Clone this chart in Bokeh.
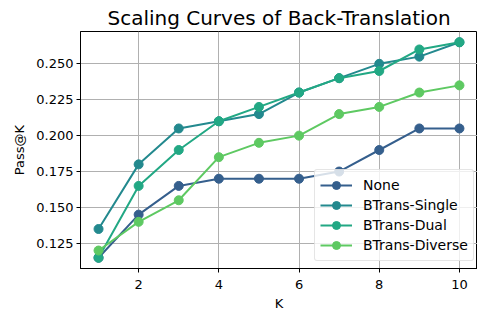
from bokeh.plotting import figure
from bokeh.embed import file_html
from bokeh.resources import INLINE
from bokeh.models import Legend, LegendItem, FixedTicker, NumeralTickFormatter, Range1d

k_values = [1, 2, 3, 4, 5, 6, 7, 8, 9, 10]
series_names = ["None", "BTrans-Single", "BTrans-Dual", "BTrans-Diverse"]
none_vals = [0.115, 0.145, 0.165, 0.170, 0.170, 0.170, 0.175, 0.190, 0.205, 0.205]
single_vals = [0.135, 0.180, 0.205, 0.210, 0.215, 0.230, 0.240, 0.250, 0.255, 0.265]
dual_vals = [0.115, 0.165, 0.190, 0.210, 0.220, 0.230, 0.240, 0.245, 0.260, 0.265]
diverse_vals = [0.120, 0.140, 0.155, 0.185, 0.195, 0.200, 0.215, 0.220, 0.230, 0.235]
colors = ["#355f8d", "#23898e", "#22a884", "#5ec962"]
x_ticks = [2, 4, 6, 8, 10]
y_ticks = [0.125, 0.150, 0.175, 0.200, 0.225, 0.250]

FONT = "DejaVu Sans"

p = figure(width=477, height=313, output_backend="svg", toolbar_location=None,
           x_range=Range1d(0.55, 10.45), y_range=Range1d(0.1075, 0.2725),
           min_border_left=80, min_border_right=0, min_border_top=31, min_border_bottom=44)

p.title.text = "Scaling Curves of Back-Translation"
p.title.text_font = FONT
p.title.text_font_size = "20px"
p.title.text_font_style = "normal"
p.title.text_color = "black"
p.title.align = "center"
p.title.standoff = 4
p.title.offset = 0

p.outline_line_color = "black"
p.outline_line_width = 1
p.background_fill_color = "white"
p.border_fill_color = "white"

for ax in (p.xaxis, p.yaxis):
    ax.major_label_text_font = FONT
    ax.major_label_text_font_size = "13px"
    ax.major_label_text_color = "black"
    ax.axis_label_text_font = FONT
    ax.axis_label_text_font_size = "13px"
    ax.axis_label_text_font_style = "normal"
    ax.axis_label_text_color = "black"
    ax.minor_tick_line_color = None
    ax.major_tick_out = 4
    ax.major_tick_in = 0
    ax.axis_line_color = "black"
    ax.major_tick_line_color = "black"

p.xaxis.axis_label = "K"
p.yaxis.axis_label = "Pass@K"
p.xaxis.ticker = FixedTicker(ticks=x_ticks)
p.yaxis.ticker = FixedTicker(ticks=y_ticks)
p.yaxis.formatter = NumeralTickFormatter(format="0.000")
p.xaxis.major_label_standoff = 7
p.yaxis.major_label_standoff = 3
p.xaxis.axis_label_standoff = 4
p.yaxis.axis_label_standoff = 6

p.xgrid.grid_line_color = "#b0b0b0"
p.ygrid.grid_line_color = "#b0b0b0"
p.xgrid.grid_line_width = 1
p.ygrid.grid_line_width = 1

all_vals = [none_vals, single_vals, dual_vals, diverse_vals]
items = []
for name, vals, c in zip(series_names, all_vals, colors):
    ln = p.line(k_values, vals, line_color=c, line_width=2)
    sc = p.scatter(k_values, vals, size=9, fill_color=c, line_color=c)
    items.append(LegendItem(label=name, renderers=[ln, sc]))

legend = Legend(items=items, location=(234, 7))
legend.margin = 0
legend.padding = 5
legend.spacing = 0
legend.glyph_width = 32
legend.glyph_height = 20
legend.label_height = 20
legend.label_standoff = 11
legend.label_text_font = FONT
legend.label_text_font_size = "14px"
legend.label_text_color = "black"
legend.border_line_color = "#cccccc"
legend.border_line_width = 1
legend.background_fill_alpha = 0.8
legend.border_radius = 3
p.add_layout(legend, "center")

open("out.html", "w").write(file_html(p, INLINE))
